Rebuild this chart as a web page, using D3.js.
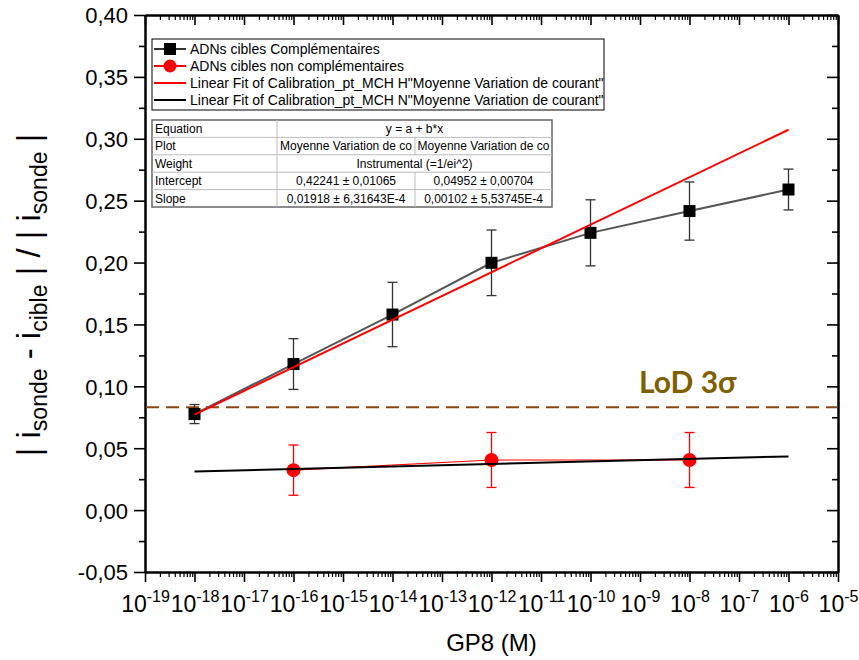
<!DOCTYPE html>
<html><head><meta charset="utf-8">
<script src="https://cdn.jsdelivr.net/npm/d3@7/dist/d3.min.js"></script>
<style>
body{margin:0;background:#fff;}
svg{display:block;}
svg text{font-family:"Liberation Sans",Arial,sans-serif;}
</style></head>
<body>
<svg id="chart" width="859" height="660"></svg>
<script>
// ---- data ----
const concCompl = [1e-18, 1e-16, 1e-14, 1e-12, 1e-10, 1e-8, 1e-6];
const valCompl  = [0.0776, 0.118, 0.158, 0.1998, 0.224, 0.2416, 0.259];
const errCompl  = [0.0077, 0.0205, 0.026, 0.0265, 0.0267, 0.0235, 0.0165];
const concNon = [1e-16, 1e-12, 1e-8];
const valNon  = [0.0323, 0.0405, 0.0405];
const errNon  = [0.0203, 0.0222, 0.0222];
const fitConc = [1e-18, 1e-6];
const fitH = [0.0772, 0.3073];
const fitN = [0.0312, 0.0434];
const lodValue = 0.0832;
const yTicks = [-0.05, 0, 0.05, 0.10, 0.15, 0.20, 0.25, 0.30, 0.35, 0.40];
const xExponents = [-19,-18,-17,-16,-15,-14,-13,-12,-11,-10,-9,-8,-7,-6,-5];
const legendLabels = ["ADNs cibles Complémentaires","ADNs cibles non complémentaires",
 "Linear Fit of Calibration_pt_MCH H\"Moyenne Variation de courant\"",
 "Linear Fit of Calibration_pt_MCH N\"Moyenne Variation de courant\""];
const tableRows = [
 ["Equation", "y = a + b*x", null],
 ["Plot", "Moyenne Variation de co", "Moyenne Variation de co"],
 ["Weight", "Instrumental (=1/ei^2)", null],
 ["Intercept", "0,42241 ± 0,01065", "0,04952 ± 0,00704"],
 ["Slope", "0,01918 ± 6,31643E-4", "0,00102 ± 5,53745E-4"]
];

const L=145, R=838, T=15, B=572;
const FONT = "Liberation Sans, Arial, sans-serif";
const svg = d3.select("#chart");
const x = d3.scaleLog().domain([1e-19,1e-5]).range([L,R]);
const y = d3.scaleLinear().domain([-0.05,0.40]).range([B,T]);
const fmt = v => d3.format(".2f")(v).replace(".",",").replace("−","-");

const majorX = xExponents.map(e => Math.pow(10,e));
const minorX = [];
for (let e=-19;e<-5;e++) for (let m=2;m<=9;m++) minorX.push(m*Math.pow(10,e));
const minorY = [];
for (let i=0;i<yTicks.length-1;i++) minorY.push((yTicks[i]+yTicks[i+1])/2);

function styleAxis(g){
  g.attr("font-family",FONT);
  g.select(".domain").attr("stroke","#000").attr("stroke-width",2);
  g.selectAll(".tick line").attr("stroke","#000").attr("stroke-width",1.6);
}
// bottom
const gb = svg.append("g").attr("transform",`translate(0,${B})`)
  .call(d3.axisBottom(x).tickValues(minorX).tickSize(5).tickSizeOuter(0).tickFormat(""));
styleAxis(gb); gb.selectAll(".tick line").attr("stroke-width",1.2);
const gbm = svg.append("g").attr("transform",`translate(0,${B})`)
  .call(d3.axisBottom(x).tickValues(majorX).tickSize(10).tickSizeOuter(0).tickFormat(""));
styleAxis(gbm);
gbm.selectAll(".tick").each(function(d,i){
  const t = d3.select(this).append("text").attr("y",40).attr("fill","#000")
    .attr("text-anchor","middle").attr("font-size",23).attr("font-family",FONT);
  t.append("tspan").text("10");
  t.append("tspan").attr("font-size",16).attr("dy",-10).text(String(xExponents[i]));
});
// top
const gt = svg.append("g").attr("transform",`translate(0,${T})`)
  .call(d3.axisBottom(x).tickValues(minorX).tickSize(5).tickSizeOuter(0).tickFormat(""));
styleAxis(gt); gt.selectAll(".tick line").attr("stroke-width",1.2);
const gtm = svg.append("g").attr("transform",`translate(0,${T})`)
  .call(d3.axisBottom(x).tickValues(majorX).tickSize(10).tickSizeOuter(0).tickFormat(""));
styleAxis(gtm);
// left
const gl = svg.append("g").attr("transform",`translate(${L},0)`)
  .call(d3.axisLeft(y).tickValues(minorY).tickSize(6).tickSizeOuter(0).tickFormat(""));
styleAxis(gl);
const glm = svg.append("g").attr("transform",`translate(${L},0)`)
  .call(d3.axisLeft(y).tickValues(yTicks).tickSize(11).tickSizeOuter(0).tickFormat(fmt).tickPadding(6));
styleAxis(glm);
glm.selectAll(".tick text").attr("font-size",22).attr("fill","#000").attr("dy","0.36em");
// right
const gr = svg.append("g").attr("transform",`translate(${R},0)`)
  .call(d3.axisLeft(y).tickValues(minorY).tickSize(6).tickSizeOuter(0).tickFormat(""));
styleAxis(gr);
const grm = svg.append("g").attr("transform",`translate(${R},0)`)
  .call(d3.axisLeft(y).tickValues(yTicks).tickSize(11).tickSizeOuter(0).tickFormat(""));
styleAxis(grm);

// LoD
svg.append("line").attr("x1",L+1).attr("x2",R-1).attr("y1",y(lodValue)).attr("y2",y(lodValue))
  .attr("stroke","#8B4513").attr("stroke-width",2).attr("stroke-dasharray","13,7");
svg.append("text").attr("x",639).attr("y",y(lodValue)-14).style("font-family","Lato, 'Open Sans', sans-serif")
  .attr("font-weight","bold").attr("font-size",30).attr("fill","#7F6000").text("LoD 3σ");

const plot = svg.append("g");
const compl = concCompl.map((c,i)=>({c,v:valCompl[i],e:errCompl[i]}));
const non = concNon.map((c,i)=>({c,v:valNon[i],e:errNon[i]}));
const line = d3.line().x(d=>x(d.c)).y(d=>y(d.v));

function errBars(data,color){
  const g = plot.append("g").attr("stroke",color).attr("stroke-width",1.3).attr("fill","none");
  data.forEach(d=>{
    const cx=x(d.c), y1=y(d.v+d.e), y2=y(d.v-d.e);
    g.append("line").attr("x1",cx).attr("x2",cx).attr("y1",y1).attr("y2",y2);
    g.append("line").attr("x1",cx-5).attr("x2",cx+5).attr("y1",y1).attr("y2",y1);
    g.append("line").attr("x1",cx-5).attr("x2",cx+5).attr("y1",y2).attr("y2",y2);
  });
}
errBars(compl,"#333");
plot.append("path").datum(compl).attr("d",line).attr("fill","none").attr("stroke","#555").attr("stroke-width",2);
plot.selectAll(".sq").data(compl).join("rect").attr("x",d=>x(d.c)-6).attr("y",d=>y(d.v)-6)
  .attr("width",12).attr("height",12).attr("fill","#000");
errBars(non,"#ff0000");
plot.append("path").datum(non).attr("d",line).attr("fill","none").attr("stroke","#ff0000").attr("stroke-width",1.2);
plot.selectAll(".ci").data(non).join("circle").attr("cx",d=>x(d.c)).attr("cy",d=>y(d.v))
  .attr("r",7).attr("fill","#ff0000");
// fits
const fitLine = vals => fitConc.map((c,i)=>({c,v:vals[i]}));
plot.append("path").datum(fitLine(fitH)).attr("d",line).attr("fill","none").attr("stroke","#ff0000").attr("stroke-width",2);
plot.append("path").datum(fitLine(fitN)).attr("d",line).attr("fill","none").attr("stroke","#000").attr("stroke-width",2);

// legend
const lg = svg.append("g");
lg.append("rect").attr("x",152).attr("y",39).attr("width",452).attr("height",71)
  .attr("fill","#fff").attr("stroke","#000").attr("stroke-width",1);
const ly = [49, 66, 83, 100];
legendLabels.forEach((t,i)=>{
  const col = (i===0||i===3)?"#000":"#ff0000";
  lg.append("line").attr("x1",154).attr("x2",186).attr("y1",ly[i]).attr("y2",ly[i])
    .attr("stroke", i===0?"#333":col).attr("stroke-width",2);
  if(i===0) lg.append("rect").attr("x",164).attr("y",ly[i]-6).attr("width",12).attr("height",12).attr("fill","#000");
  if(i===1) lg.append("circle").attr("cx",170).attr("cy",ly[i]).attr("r",6.5).attr("fill","#ff0000");
  lg.append("text").attr("x",190).attr("y",ly[i]+5).attr("font-size",14).attr("fill","#000").text(t);
});

// table
const tg = svg.append("g").attr("font-size",12);
const tx=[152,277,415,552], ty0=120, rh=17.4;
tg.append("rect").attr("x",tx[0]).attr("y",ty0).attr("width",tx[3]-tx[0]).attr("height",rh*5)
  .attr("fill","#fff").attr("stroke","#666").attr("stroke-width",1.5);
tableRows.forEach((r,i)=>{
  const yy = ty0+i*rh;
  if(i>0) tg.append("line").attr("x1",tx[0]).attr("x2",tx[3]).attr("y1",yy).attr("y2",yy).attr("stroke","#bbb");
  tg.append("line").attr("x1",tx[1]).attr("x2",tx[1]).attr("y1",yy).attr("y2",yy+rh).attr("stroke","#bbb");
  if(r[2]!==null) tg.append("line").attr("x1",tx[2]).attr("x2",tx[2]).attr("y1",yy).attr("y2",yy+rh).attr("stroke","#bbb");
  tg.append("text").attr("x",tx[0]+3).attr("y",yy+13).attr("fill","#000").text(r[0]);
  if(r[2]===null){
    tg.append("text").attr("x",(tx[1]+tx[3])/2).attr("y",yy+13).attr("text-anchor","middle").text(r[1]);
  } else {
    tg.append("text").attr("x",(tx[1]+tx[2])/2).attr("y",yy+13).attr("text-anchor","middle").text(r[1]);
    tg.append("text").attr("x",(tx[2]+tx[3])/2).attr("y",yy+13).attr("text-anchor","middle").text(r[2]);
  }
});

// axis titles
svg.append("text").attr("x",(L+R)/2).attr("y",651).attr("text-anchor","middle")
  .attr("font-size",24).attr("fill","#000").text("GP8 (M)");
const yt = svg.append("text").attr("transform","translate(40,295) rotate(-90)")
  .attr("text-anchor","middle").attr("font-size",33).attr("fill","#000");
const parts = [["| i",0],["sonde",1],[" - i",0],["cible",1],[" | / | i",0],["sonde",1],[" |",0]];
let prevSub=false;
parts.forEach(([t,sub])=>{
  const ts = yt.append("tspan").text(t);
  if(sub){ ts.attr("font-size",23).attr("dy",7); prevSub=true; }
  else { if(prevSub) ts.attr("dy",-7); prevSub=false; }
});
</script>
</body></html>
